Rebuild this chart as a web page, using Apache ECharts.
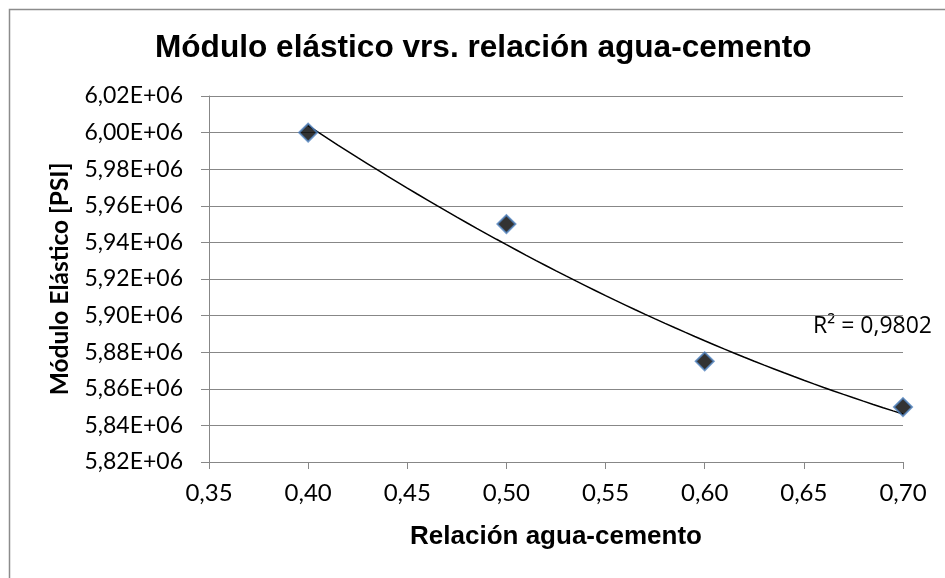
<!DOCTYPE html>
<html>
<head>
<meta charset="utf-8">
<title>Módulo elástico vrs. relación agua-cemento</title>
<script src="https://cdn.jsdelivr.net/npm/echarts@6/dist/echarts.min.js"></script>
<style>
  html, body { margin: 0; padding: 0; background: #ffffff; }
  #chart { width: 945px; height: 578px; }
</style>
</head>
<body>
<div id="chart"></div>
<script>
// Water-cement ratio and measured elastic modulus (PSI)
const ratios = [0.40, 0.50, 0.60, 0.70];
const modulus = [6000000, 5950000, 5875000, 5850000];

// Axis ranges and tick spacing
const xMin = 0.35, xMax = 0.70, xStep = 0.05;
const yMin = 5820000, yMax = 6020000, yStep = 20000;

// Second-order least-squares trend line through the measured points
function polyFit2(xs, ys) {
  const n = xs.length;
  const mx = xs.reduce((a, b) => a + b, 0) / n;
  const my = ys.reduce((a, b) => a + b, 0) / n;
  const d = xs.map(x => x - mx);
  const d2mean = d.reduce((a, v) => a + v * v, 0) / n;
  const q = d.map(v => v * v - d2mean);
  const sxx = d.reduce((a, v) => a + v * v, 0);
  const sqq = q.reduce((a, v) => a + v * v, 0);
  const sxy = d.reduce((a, v, i) => a + v * (ys[i] - my), 0);
  const sqy = q.reduce((a, v, i) => a + v * (ys[i] - my), 0);
  const b1 = sxy / sxx, b2 = sqy / sqq;
  const f = x => my + b1 * (x - mx) + b2 * ((x - mx) * (x - mx) - d2mean);
  const sst = ys.reduce((a, y) => a + (y - my) * (y - my), 0);
  const sse = ys.reduce((a, y, i) => a + (y - f(xs[i])) * (y - f(xs[i])), 0);
  return { f, r2: 1 - sse / sst };
}

const fit = polyFit2(ratios, modulus);
const trendPoints = [];
const steps = 60;
for (let i = 0; i <= steps; i++) {
  const x = ratios[0] + (ratios[ratios.length - 1] - ratios[0]) * i / steps;
  trendPoints.push([x, fit.f(x)]);
}
const r2Text = 'R² = ' + fit.r2.toFixed(4).replace('.', ',');

const labelFont = 'Lato, "Open Sans", sans-serif';
const boldFont = '"Liberation Sans", Arial, sans-serif';
const gridColor = '#878787';

const chart = echarts.init(document.getElementById('chart'), null, { renderer: 'canvas' });

chart.setOption({
  backgroundColor: '#ffffff',
  animation: false,
  title: {
    text: 'Módulo elástico vrs. relación agua-cemento',
    left: 150,
    top: 27,
    textStyle: { fontFamily: boldFont, fontWeight: 'bold', fontSize: 31.6, color: '#000000' }
  },
  grid: { left: 209, right: 42, top: 96, bottom: 116, containLabel: false },
  xAxis: {
    type: 'value',
    min: xMin, max: xMax, interval: xStep,
    name: 'Relación agua-cemento',
    nameLocation: 'middle',
    nameGap: 62,
    nameTextStyle: { fontFamily: boldFont, fontWeight: 'bold', fontSize: 26, color: '#000000' },
    axisLine: { show: true, lineStyle: { color: gridColor, width: 1 } },
    axisTick: { show: true, inside: false, length: 7, lineStyle: { color: gridColor, width: 1 } },
    axisLabel: {
      margin: 19,
      fontFamily: labelFont, fontSize: 24, color: '#000000',
      formatter: v => v.toFixed(2).replace('.', ',')
    },
    splitLine: { show: false }
  },
  yAxis: {
    type: 'value',
    min: yMin, max: yMax, interval: yStep,
    name: 'Módulo Elástico [PSI]',
    nameLocation: 'middle',
    nameGap: 136,
    nameTextStyle: { fontFamily: labelFont, fontWeight: 'bold', fontSize: 24.5, color: '#000000' },
    axisLine: { show: true, lineStyle: { color: gridColor, width: 1 } },
    axisTick: { show: true, inside: false, length: 8, lineStyle: { color: gridColor, width: 1 } },
    axisLabel: {
      margin: 26,
      fontFamily: labelFont, fontSize: 23, color: '#000000',
      formatter: v => (v / 1e6).toFixed(2).replace('.', ',') + 'E+06'
    },
    splitLine: { show: true, lineStyle: { color: gridColor, width: 1 } }
  },
  graphic: [
    {
      type: 'rect',
      shape: { x: 9.5, y: 9.5, width: 1000, height: 700 },
      style: { fill: 'none', stroke: '#8c8c8c', lineWidth: 1.5 },
      silent: true,
      z: -1
    },
    {
      type: 'text',
      left: 813,
      top: 315,
      style: { text: r2Text, fontFamily: '"Open Sans", sans-serif', fontSize: 23, fill: '#000000' }
    }
  ],
  series: [
    {
      name: 'Tendencia',
      type: 'line',
      data: trendPoints,
      showSymbol: false,
      smooth: false,
      lineStyle: { color: '#000000', width: 1.5 },
      z: 2
    },
    {
      name: 'Módulo elástico',
      type: 'scatter',
      data: ratios.map((x, i) => [x, modulus[i]]),
      symbol: 'diamond',
      symbolSize: 18,
      itemStyle: { color: '#000000', borderColor: '#4f81bd', borderWidth: 2 },
      z: 3
    }
  ]
});
</script>
</body>
</html>
